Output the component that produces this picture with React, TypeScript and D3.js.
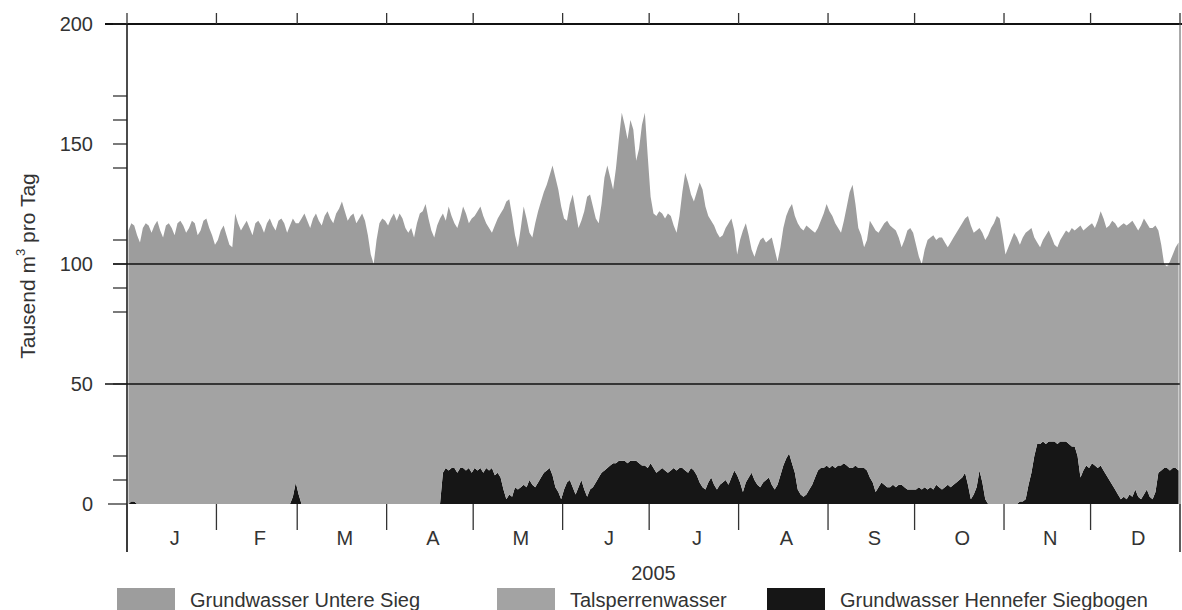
import React from 'react';
import * as d3 from 'd3';

// ---- data (Tausend m³ pro Tag, daily values 2005) ----
const months = ['J', 'F', 'M', 'A', 'M', 'J', 'J', 'A', 'S', 'O', 'N', 'D'];
const yearLabel = '2005';
const yTickValues = [0, 10, 20, 50, 80, 90, 100, 110, 140, 150, 160, 170, 200];
const yLabelValues = [0, 50, 100, 150, 200];
const gridValues = [50, 100];
const seriesNames = ['Grundwasser Untere Sieg', 'Talsperrenwasser', 'Grundwasser Hennefer Siegbogen'];
const seriesColors = ['#9d9d9d', '#a3a3a3', '#161616'];
const talsperrenLevel = 100; // boundary between Talsperrenwasser and Grundwasser Untere Sieg

// upper edge of the whole stack (total supply)
const gesamtJan = [114,117,116,112,109,115,117,116,113,116,118,114,111,116,117,115,112,117,118,116,113,115,118,117,112,114,118,119,115,112,108];
const gesamtFeb = [110,114,116,112,108,107,121,117,114,116,118,115,112,117,118,116,113,117,119,116,114,118,119,117,113,116,119,117];
const gesamtMar = [117,119,121,118,115,119,121,118,116,120,122,119,117,121,123,126,122,118,120,121,117,119,121,118,112,104,100,110,117,119,118];
const gesamtApr = [116,119,121,118,121,119,115,113,115,111,117,121,122,125,119,114,111,116,119,121,118,124,120,117,115,119,124,121,117,119];
const gesamtMay = [120,122,124,120,117,115,113,116,119,121,123,126,127,120,112,107,115,124,119,113,111,117,122,126,130,133,137,141,136,131,124];
const gesamtJun = [119,118,125,129,122,115,118,122,128,129,124,119,117,125,136,141,136,131,140,152,163,158,152,160,156,143,148,158,163,145];
const gesamtJul = [128,121,120,122,121,119,121,120,116,113,120,130,138,134,129,126,130,134,131,124,120,118,116,113,111,112,115,117,119,114,104];
const gesamtAug = [110,114,117,112,106,103,107,110,111,109,110,111,106,101,107,115,120,123,125,120,117,115,114,116,115,114,113,115,118,121,125];
const gesamtSep = [122,120,117,115,113,118,124,130,133,125,115,112,107,110,118,116,114,113,115,117,118,116,115,114,111,107,110,114,115,113];
const gesamtOct = [108,103,100,106,110,111,112,110,111,111,109,107,109,111,113,115,117,119,120,116,113,114,115,113,110,112,115,117,120,119,112];
const gesamtNov = [104,107,110,113,111,108,111,113,114,115,111,109,107,110,112,114,111,108,107,110,112,114,113,115,114,115,116,114,115,116];
const gesamtDec = [117,115,118,122,119,115,116,118,117,115,116,117,116,117,118,116,114,116,119,117,115,115,116,114,108,100,99,101,104,107,109];

// Grundwasser Hennefer Siegbogen (bottom, black)
const hennJan = [0,1,1,0,0,0,0,0,0,0,0,0,0,0,0,0,0,0,0,0,0,0,0,0,0,0,0,0,0,0,0];
const hennFeb = [0,0,0,0,0,0,0,0,0,0,0,0,0,0,0,0,0,0,0,0,0,0,0,0,0,0,3,9];
const hennMar = [4,0,0,0,0,0,0,0,0,0,0,0,0,0,0,0,0,0,0,0,0,0,0,0,0,0,0,0,0,0,0];
const hennApr = [0,0,0,0,0,0,0,0,0,0,0,0,0,0,0,0,0,0,0,13,15,14,15,15,13,15,15,14,15,13];
const hennMay = [15,14,15,13,15,14,15,12,13,11,6,2,4,3,7,6,7,8,7,10,8,7,9,11,13,14,15,12,7,5,2];
const hennJun = [6,9,10,7,4,7,10,6,3,6,7,9,11,13,14,15,16,17,17,18,18,18,17,18,18,18,17,16,16,15];
const hennJul = [17,15,13,14,15,14,13,14,15,14,15,15,14,13,15,14,12,9,7,6,9,11,8,6,8,9,10,8,11,14,12];
const hennAug = [9,5,9,11,13,10,8,7,9,10,11,8,6,8,12,16,19,21,17,13,6,4,3,4,6,8,11,14,15,15,16];
const hennSep = [15,16,15,16,16,17,16,15,15,16,15,15,15,14,11,9,5,7,9,8,7,7,8,7,8,8,7,6,6,6];
const hennOct = [6,7,6,7,6,7,6,8,7,6,7,8,7,8,9,10,11,13,8,2,4,7,14,9,2,0,0,0,0,0,0];
const hennNov = [0,0,0,0,0,1,1,2,8,13,20,25,25,26,25,26,26,26,25,26,26,26,25,24,24,20,11,14,16,15];
const hennDec = [17,16,15,16,14,12,10,8,6,4,2,3,2,4,3,6,3,2,4,6,3,2,5,13,14,15,15,14,15,15,14];

const gesamt = [...gesamtJan, ...gesamtFeb, ...gesamtMar, ...gesamtApr, ...gesamtMay, ...gesamtJun,
  ...gesamtJul, ...gesamtAug, ...gesamtSep, ...gesamtOct, ...gesamtNov, ...gesamtDec];
const hennefer = [...hennJan, ...hennFeb, ...hennMar, ...hennApr, ...hennMay, ...hennJun,
  ...hennJul, ...hennAug, ...hennSep, ...hennOct, ...hennNov, ...hennDec];

type Row = { date: Date; hennefer: number; talsperren: number; untere: number };

const rows: Row[] = gesamt.map((g, i) => {
  const h = hennefer[i];
  const mid = Math.min(talsperrenLevel, g);
  return {
    date: new Date(Date.UTC(2005, 0, 1 + i, 12)),
    hennefer: h,
    talsperren: Math.max(0, mid - h),
    untere: Math.max(0, g - mid),
  };
});

const W = 1182, H = 610;
const PL = 127, PR = 1180, PT = 24, PB = 504;
const FONT = '"Liberation Sans", Arial, Helvetica, sans-serif';

export default function App() {
  const x = d3.scaleUtc().domain([new Date(Date.UTC(2005, 0, 1)), new Date(Date.UTC(2006, 0, 1))]).range([PL, PR]);
  const y = d3.scaleLinear().domain([0, 200]).range([PB, PT]);

  const stack = d3.stack<Row>().keys(['hennefer', 'talsperren', 'untere']);
  const layers = stack(rows);
  const area = d3.area<d3.SeriesPoint<Row>>()
    .x(d => x(d.data.date))
    .y0(d => y(d[0]))
    .y1(d => y(d[1]))
    .curve(d3.curveLinear);
  const layerColor: Record<string, string> = {
    hennefer: seriesColors[2],
    talsperren: seriesColors[1],
    untere: seriesColors[0],
  };

  const boundaries = d3.utcMonth.range(new Date(Date.UTC(2005, 0, 1)), new Date(Date.UTC(2006, 0, 2)));
  const monthStarts = boundaries.slice(0, 12);

  const legendX = [117, 497, 767];
  const legendOrder = [0, 1, 2];

  return (
    <svg width={W} height={H} style={{ position: 'absolute', left: 0, top: 0, background: '#fff' }}
      fontFamily={FONT}>
      <rect x={0} y={0} width={W} height={H} fill="#fff" />
      {layers.map(l => (
        <path key={l.key} d={area(l) || ''} fill={layerColor[l.key]} />
      ))}

      {/* grid lines */}
      {gridValues.map(v => (
        <line key={v} x1={v === 100 ? 113 : 105} x2={PR} y1={y(v)} y2={y(v)} stroke="#111" strokeWidth={1.5} />
      ))}
      {/* top frame */}
      <line x1={105} x2={W} y1={y(200)} y2={y(200)} stroke="#111" strokeWidth={2} />
      {/* left axis & right edge */}
      <line x1={PL} x2={PL} y1={PT} y2={552} stroke="#111" strokeWidth={1.5} />
      <line x1={PR} x2={PR} y1={PT} y2={552} stroke="#555" strokeWidth={1} />

      {/* y ticks */}
      {yTickValues.map(v => (
        <line key={v} x1={v === 0 ? 108 : 113} x2={PL} y1={y(v)} y2={y(v)} stroke="#222" strokeWidth={1.2} />
      ))}
      {yLabelValues.map(v => (
        <text key={v} x={93} y={y(v)} textAnchor="end" dominantBaseline="central" fontSize={20} fill="#333">{v}</text>
      ))}
      <text transform={`translate(27,266) rotate(-90)`} textAnchor="middle"
        dominantBaseline="central" fontSize={21} fill="#333">
        Tausend m<tspan dy={-7} fontSize={13}>3</tspan><tspan dy={7}> pro Tag</tspan>
      </text>

      {/* month ticks */}
      {boundaries.map((b, i) => {
        const long = i === 0 || i === boundaries.length - 1;
        return (
          <g key={i}>
            <line x1={x(b)} x2={x(b)} y1={PT} y2={13} stroke="#333" strokeWidth={1.3} />
            <line x1={x(b)} x2={x(b)} y1={PB} y2={long ? 552 : 530} stroke="#333" strokeWidth={1.3} />
          </g>
        );
      })}
      {monthStarts.map((m, i) => {
        const next = d3.utcMonth.offset(m, 1);
        const cx = (x(m) + x(next)) / 2 + 3;
        return <text key={i} x={cx} y={545} textAnchor="middle" fontSize={20} fill="#333">{months[i]}</text>;
      })}
      <text x={(PL + PR) / 2} y={580} textAnchor="middle" fontSize={20} fill="#333">{yearLabel}</text>

      {/* legend */}
      {legendOrder.map((k, i) => (
        <g key={k}>
          <rect x={legendX[i]} y={588} width={58} height={24} fill={seriesColors[k]} />
          <text x={legendX[i] + 73} y={607} fontSize={20} fill="#333">{seriesNames[k]}</text>
        </g>
      ))}
    </svg>
  );
}
